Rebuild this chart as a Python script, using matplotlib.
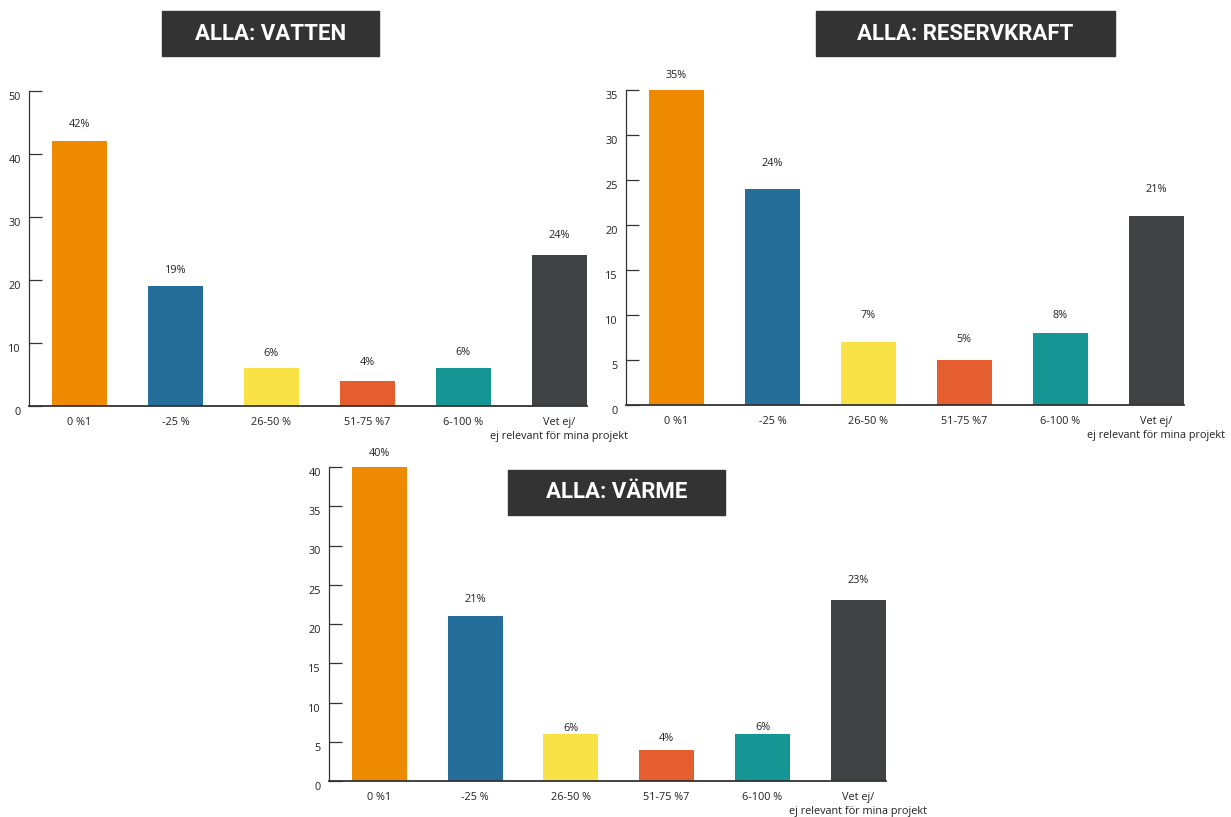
import matplotlib.pyplot as plt
import matplotlib.transforms as mtransforms
from matplotlib.patches import Rectangle

categories = ["0 %1", "-25 %", "26-50 %", "51-75 %7", "6-100 %",
              "Vet ej/\nej relevant för mina projekt"]
vatten = [42, 19, 6, 4, 6, 24]
reservkraft = [35, 24, 7, 5, 8, 21]
varme = [40, 21, 6, 4, 6, 23]

colors = ["#ee8a00", "#266e9a", "#f9e245", "#e55e30", "#159594", "#414244"]

W, H = 1231, 817
fig = plt.figure(figsize=(W / 100, H / 100), dpi=100)
plt.rcParams['font.family'] = ['Open Sans', 'DejaVu Sans']


def px_axes(x0, x1, y_top, y_bot):
    return fig.add_axes([x0 / W, 1 - y_bot / H, (x1 - x0) / W, (y_bot - y_top) / H])


def draw(ax, values, ymax, ystep, gaps):
    x = list(range(len(values)))
    ax.bar(x, values, width=0.573, color=colors)
    ax.set_xlim(-0.526, 5.29)
    ax.set_ylim(0, ymax)
    ax.set_yticks(range(0, ymax + 1, ystep))
    ax.set_xticks(x)
    ax.set_xticklabels(categories, fontsize=7.8, color="#222222", linespacing=1.3)
    ax.tick_params(axis="x", length=0, pad=8)
    ax.tick_params(axis="y", direction="in", length=9.5, width=0.9,
                   color="#333333", labelsize=7.8, labelcolor="#222222", pad=6)
    shift = mtransforms.ScaledTranslation(0, -0.05, fig.dpi_scale_trans)
    for lab in ax.get_yticklabels():
        lab.set_transform(lab.get_transform() + shift)
    for s in ["top", "right"]:
        ax.spines[s].set_visible(False)
    ax.spines["left"].set_color("#333333")
    ax.spines["left"].set_linewidth(0.9)
    ax.spines["bottom"].set_color("#333333")
    ax.spines["bottom"].set_linewidth(1.3)
    for xi, v, g in zip(x, values, gaps):
        ax.annotate(f"{v}%", (xi, v), xytext=(0, g * 0.72), textcoords="offset points",
                    ha="center", va="center", fontsize=7.8, color="#222222")


def title_box(x0, x1, y0, y1, text):
    fig.patches.append(Rectangle((x0 / W, 1 - y1 / H), (x1 - x0) / W, (y1 - y0) / H,
                                 transform=fig.transFigure, color="#333333", zorder=1))
    fig.text((x0 + x1) / 2 / W, 1 - (y0 + y1) / 2 / H, text, color="white",
             ha="center", va="center", fontsize=16, fontweight="bold",
             family="Roboto", zorder=2)


ax1 = px_axes(29, 587, 91, 406)
draw(ax1, vatten, 50, 10, [17, 16, 15, 18, 16, 19])
ax2 = px_axes(626, 1184, 90, 405)
draw(ax2, reservkraft, 35, 5, [15, 26, 26, 20, 17, 27])
ax3 = px_axes(329, 886, 467, 781)
draw(ax3, varme, 40, 5, [14, 17, 5, 11, 6, 20])

title_box(162, 379, 11, 56, "ALLA: VATTEN")
title_box(816, 1115, 11, 56, "ALLA: RESERVKRAFT")
title_box(508, 725, 470, 515, "ALLA: VÄRME")

fig.savefig("out.png", dpi=100)
